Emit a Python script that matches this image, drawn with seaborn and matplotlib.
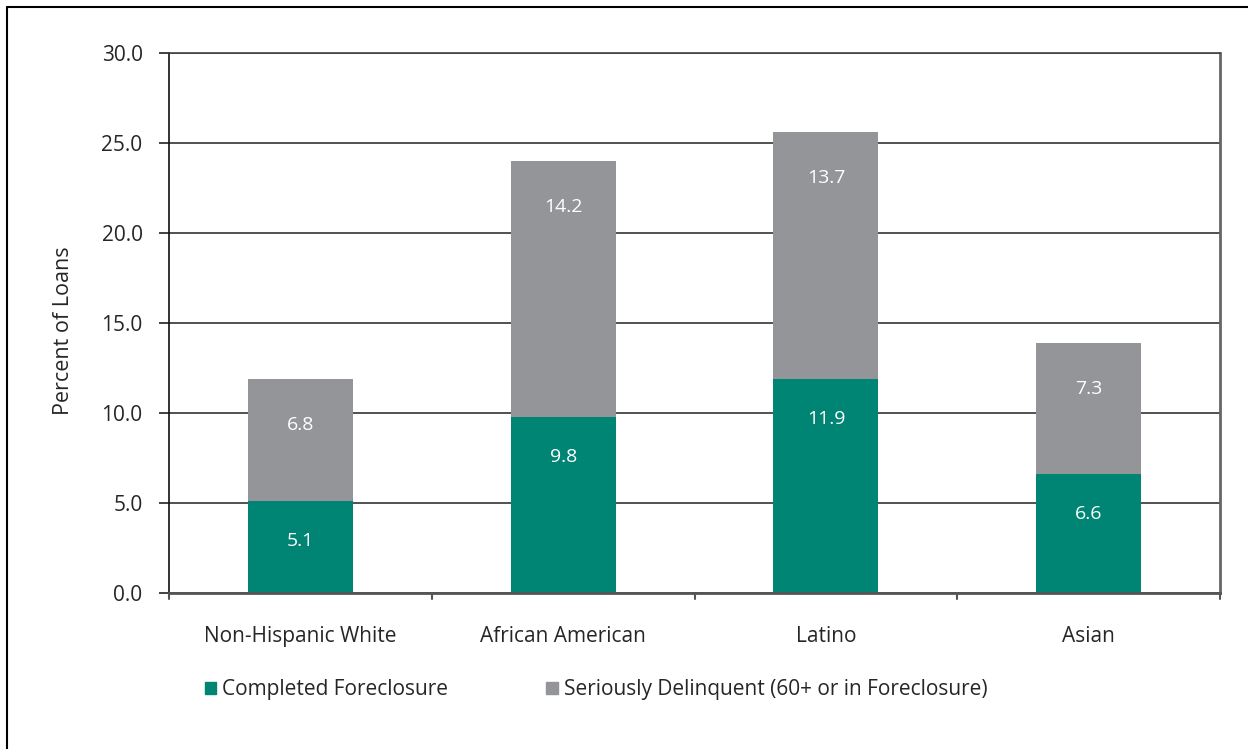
import matplotlib
matplotlib.use("Agg")
import matplotlib.pyplot as plt
from matplotlib.patches import Rectangle
import seaborn as sns
import pandas as pd

groups = ["Non-Hispanic White", "African American", "Latino", "Asian"]
completed = [5.1, 9.8, 11.9, 6.6]
delinquent = [6.8, 14.2, 13.7, 7.3]
y_ticks = [0, 5, 10, 15, 20, 25, 30]

GREEN = "#008575"
GRAY = "#939598"

sns.set_theme(style="white")
plt.rcParams["font.family"] = ["Open Sans", "DejaVu Sans"]

df = pd.DataFrame({
    "group": groups,
    "completed": completed,
    "delinquent": delinquent,
})
df["total"] = df["completed"] + df["delinquent"]

fig = plt.figure(figsize=(12.48, 7.49), dpi=100)
ax = fig.add_axes([0.1354, 0.2083, 0.8422, 0.7209])

sns.barplot(data=df, x="group", y="total", color=GRAY, width=0.4,
            saturation=1, ax=ax, linewidth=0, edgecolor="none")
sns.barplot(data=df, x="group", y="completed", color=GREEN, width=0.4,
            saturation=1, ax=ax, linewidth=0, edgecolor="none")

ax.set_ylim(0, 30)
ax.set_xlim(-0.5, len(groups) - 0.5)
ax.set_yticks(y_ticks)
ax.set_yticklabels([f"{v:.1f}" for v in y_ticks], fontsize=15)
ax.set_xticks(range(len(groups)))
ax.set_xticklabels(groups, fontsize=15)
ax.tick_params(axis="x", length=0, pad=24)
ax.tick_params(axis="y", direction="out", length=7, width=1.2, color="#222222",
               left=True, pad=12)

# boundary ticks between categories
for xb in [i - 0.5 for i in range(len(groups) + 1)]:
    ax.plot([xb, xb], [0, -0.35], color="#555555", lw=1.5, clip_on=False,
            transform=ax.transData)

ax.set_ylabel("Percent of Loans", fontsize=15.5)
ax.yaxis.set_label_coords(-0.09, 0.485)
ax.set_xlabel("")

ax.yaxis.grid(True, color="#333333", lw=1.2)
ax.set_axisbelow(True)

for side in ["left", "bottom", "right", "top"]:
    ax.spines[side].set_visible(True)
ax.spines["left"].set_color("#111111")
ax.spines["left"].set_linewidth(1.2)
ax.spines["bottom"].set_color("#555555")
ax.spines["bottom"].set_linewidth(2)
ax.spines["right"].set_color("#666666")
ax.spines["right"].set_linewidth(2)
ax.spines["top"].set_color("#444444")
ax.spines["top"].set_linewidth(1.2)

# value labels near the top of each segment
for i in range(len(groups)):
    c = completed[i]
    d = delinquent[i]
    ax.annotate(f"{c:.1f}", (i, c), xytext=(0, -29), textcoords="offset points",
                ha="center", va="center", color="white", fontsize=14)
    ax.annotate(f"{d:.1f}", (i, c + d), xytext=(0, -33), textcoords="offset points",
                ha="center", va="center", color="white", fontsize=14)

handles = [Rectangle((0, 0), 1, 1, color=GREEN), Rectangle((0, 0), 1, 1, color=GRAY)]
labels = ["Completed Foreclosure", "Seriously Delinquent (60+ or in Foreclosure)"]
fig.legend(handles, labels, loc="center left", bbox_to_anchor=(0.164, 0.079),
           ncol=2, frameon=False, fontsize=15, handlelength=0.55, handleheight=0.55,
           handletextpad=0.3, borderaxespad=0, borderpad=0, columnspacing=4.7)

# partial frame around the figure
fig.add_artist(plt.Line2D([0.006, 1.0], [0.991, 0.991], color="black", lw=1.5,
                          transform=fig.transFigure))
fig.add_artist(plt.Line2D([0.006, 0.006], [0.0, 0.991], color="black", lw=1.5,
                          transform=fig.transFigure))

fig.savefig("out.png", dpi=100)
